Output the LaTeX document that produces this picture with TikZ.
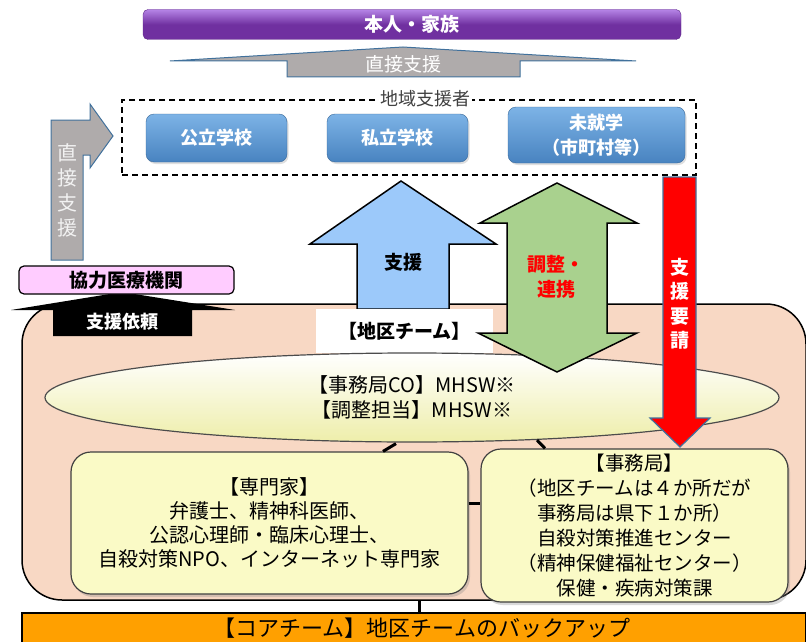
\documentclass[tikz,border=0pt]{standalone}
\usepackage{fontspec}
\setmainfont{Noto Sans CJK JP}
\usetikzlibrary{shapes.geometric,shadows,calc}
\definecolor{purp}{HTML}{7030A0}
\definecolor{purplt}{HTML}{B584E6}
\definecolor{grayarr}{HTML}{AFABAB}
\definecolor{arrline}{HTML}{41719C}
\definecolor{btntop}{HTML}{7DB3E6}
\definecolor{btnbot}{HTML}{4883C0}
\definecolor{pinkbox}{HTML}{FFCCFF}
\definecolor{peach}{HTML}{F8D8C4}
\definecolor{bluearr}{HTML}{9CC9FA}
\definecolor{greenarr}{HTML}{A9D18E}
\definecolor{yelbox}{HTML}{FAFAC6}
\definecolor{orangebar}{HTML}{FFA000}
\definecolor{lbltext}{HTML}{404040}
\newcommand\jpsize[2]{\fontsize{#1}{#2}\selectfont}
\begin{document}
\begin{tikzpicture}[x=1pt,y=-1pt,
  purpbar/.style={rounded corners=5, top color=purplt, bottom color=purp, middle color=purp,
    draw=purp!85!black, minimum width=538, minimum height=30, text=white, font=\bfseries\jpsize{19}{22}},
  grayarrow/.style={fill=grayarr, draw=arrline, line width=1},
  btn/.style={rounded corners=8, top color=btntop, bottom color=btnbot, draw=btnbot!80!black, line width=0.4,
    text=white, font=\bfseries\jpsize{18}{25}, align=center, inner sep=0,
    drop shadow={opacity=0.25, shadow xshift=1.5pt, shadow yshift=-2pt}},
  blkarrow/.style={draw=black, line width=1.5},
  yel/.style={draw=black!75, line width=1.2, fill=yelbox, rounded corners=20, align=center, inner sep=0,
    drop shadow={opacity=0.3, shadow xshift=2pt, shadow yshift=-3pt}},
  conn/.style={line width=3, black},
  wlbl/.style={text=white, font=\bfseries\jpsize{19}{22}, inner sep=0},
]
\useasboundingbox (0,0) rectangle (806,642);
% top
\node[purpbar] (family) at (412,24.5) {本人・家族};
\draw[grayarrow] (170,61) -- (403,47) -- (636,61) -- (520,61) -- (520,77) -- (287,77) -- (287,61) -- cycle;
\node[text=white, font=\jpsize{19}{22}, inner sep=0] (direct1) at (403,64) {直接支援};
% region
\node[draw, dash pattern=on 6pt off 4pt, line width=1.2, minimum width=574, minimum height=75, inner sep=0] (region) at (409,137.5) {};
\node[fill=white, text=lbltext, font=\jpsize{18}{20}, inner sep=2] (regionlbl) at (425,99) {地域支援者};
\node[btn, minimum width=141, minimum height=48] (public) at (216.5,138) {公立学校};
\node[btn, minimum width=141, minimum height=48] (private) at (397.5,138) {私立学校};
\node[btn, minimum width=177, minimum height=56] (preschool) at (596.5,135) {未就学\\（市町村等）};
% left bent arrow
\draw[grayarrow] (51,260) -- (51,120) -- (90,120) -- (90,104) -- (113,136) -- (90,168) -- (90,155) -- (83,155) -- (83,260) -- cycle;
\node[text=white!95!black, font=\jpsize{20}{25}, align=center, inner sep=0] (direct2) at (67,190) {直\\接\\支\\援};
% peach team area
\node[draw=black, line width=1.5, fill=peach, rounded corners=40, minimum width=784, minimum height=296, inner sep=0] (team) at (414,452) {};
% black arrow + hospital
\fill[black] (11,310) -- (122,292) -- (235,310) -- (192,310) -- (192,336) -- (53,336) -- (53,310) -- cycle;
\node[wlbl, font=\bfseries\jpsize{18}{22}] (request) at (122,322) {支援依頼};
\node[draw, line width=1.2, fill=pinkbox, rounded corners=5, minimum width=215, minimum height=28, inner sep=0, font=\bfseries\jpsize{19}{22}] (hospital) at (126.5,280) {協力医療機関};
% blue arrow
\draw[blkarrow, fill=bluearr] (401,181) -- (496,244) -- (449,244) -- (449,309) -- (357,309) -- (357,244) -- (310,244) -- cycle;
\node[font=\bfseries\jpsize{19}{22}, inner sep=0] (support) at (403,262) {支援};
\node[fill=white, minimum width=177, minimum height=44, inner sep=0, font=\bfseries\jpsize{19}{22}] (teamlbl) at (404.5,331) {【地区チーム】};
% ellipse
\node[ellipse, draw=black!70, line width=1.2, top color=white, bottom color={rgb,255:red,238;green,238;blue,170},
  minimum width=734, minimum height=89, inner sep=0, align=center, font=\jpsize{20}{25}] (co) at (412,397.5)
  {【事務局CO】MHSW\textbf{※}\\【調整担当】MHSW\textbf{※}};
% green double arrow
\draw[blkarrow, fill=greenarr] (557,183) -- (637,223) -- (607,223) -- (607,333) -- (637,333) -- (557,372)
  -- (478,333) -- (507,333) -- (507,223) -- (480,223) -- cycle;
\node[text=red, font=\bfseries\jpsize{19}{25}, align=center, inner sep=0] (coord) at (556,277) {調整・\\連携};
% red arrow
\draw[fill=red, draw=arrline, line width=1.2] (663,177) -- (696,177) -- (696,418) -- (710,418) -- (680,447) -- (650,418) -- (663,418) -- cycle;
\node[wlbl, align=center, font=\bfseries\jpsize{19}{24.5}] (ask) at (680,304) {支\\援\\要\\請};
% boxes
\node[yel, minimum width=397, minimum height=142, font=\jpsize{20}{24}] (expert) at (269.5,523)
  {【専門家】\\弁護士、精神科医師、\\公認心理師・臨床心理士、\\自殺対策NPO、インターネット専門家};
\node[yel, minimum width=307, minimum height=153, font=\jpsize{19.5}{25}] (office) at (634.5,525.5)
  {【事務局】\\（地区チームは４か所だが\\事務局は県下１か所）\\自殺対策推進センター\\（精神保健福祉センター）\\保健・疾病対策課};
% connectors
\draw[conn] ($(co.south)+(-16,1)$) -- ($(expert.north)+(113.5,0)$);
\draw[conn] ($(co.south)+(125,-2.5)$) -- ($(office.north)+(-89.5,0)$);
\coordinate (hy) at (0,503);
\draw[conn] (expert.east |- hy) -- (office.west |- hy);
% core team
\node[draw=black, line width=1.2, fill=orangebar, minimum width=784, minimum height=37, inner sep=0] (core) at (414,631.5) {};
\node[font=\jpsize{22}{24}, inner sep=0] (corelbl) at (422,628) {【コアチーム】地区チームのバックアップ};
\coordinate (vx) at (419,0);
\draw[conn] (team.south -| vx) -- (core.north -| vx);
\end{tikzpicture}
\end{document}
